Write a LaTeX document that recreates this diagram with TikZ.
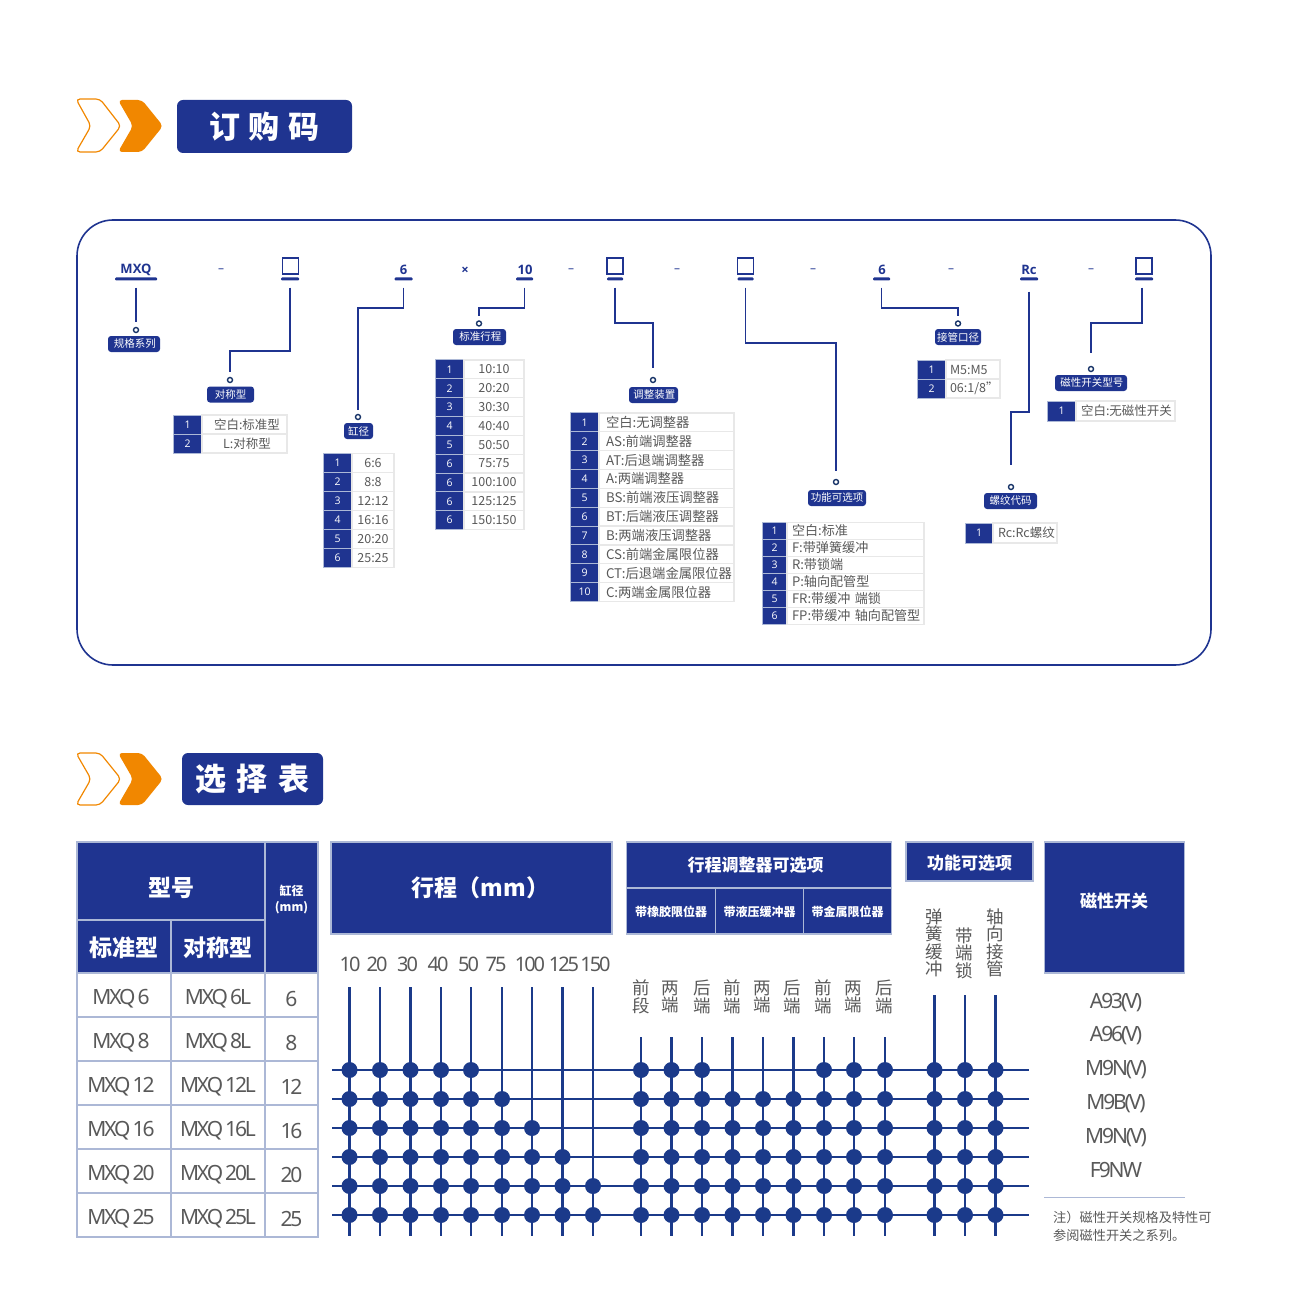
\documentclass[tikz,border=0pt]{standalone}
\usepackage{fontspec}
\setmainfont{Noto Sans CJK SC}
\newfontfamily\latinfont{Open Sans}
\newfontfamily\tightfont[LetterSpace=-10]{Noto Sans}
\definecolor{mainblue}{RGB}{31,52,144}
\definecolor{gridblue}{RGB}{27,58,138}
\definecolor{ringblue}{RGB}{24,52,104}
\definecolor{chevron}{RGB}{241,135,0}
\definecolor{cellline}{RGB}{172,184,214}
\definecolor{softline}{RGB}{232,232,232}
\definecolor{bodytext}{RGB}{89,89,89}
\begin{document}
\begin{tikzpicture}[x=1pt, y=-1pt]
\tikzset{
  titlebox/.style={fill=mainblue, rounded corners=6pt, text=white, inner sep=0pt, font=\fontsize{31}{31}\selectfont\bfseries},
  codetext/.style={text=mainblue, inner sep=0pt, font=\fontsize{13}{13}\selectfont\latinfont\bfseries},
  codedash/.style={text=mainblue, inner sep=0pt, font=\fontsize{12}{12}\selectfont\latinfont},
  blankbox/.style={draw=mainblue, line width=1.6pt, minimum size=16pt, inner sep=0pt},
  uline/.style={fill=mainblue, rounded corners=1pt, minimum height=3pt, inner sep=0pt},
  conn/.style={draw=mainblue, line width=1.5pt},
  ring/.style={draw=ringblue, circle, line width=1.4pt, minimum size=5pt, inner sep=0pt},
  tag/.style={fill=mainblue, rounded corners=3pt, text=white, minimum height=16pt, inner sep=0pt, font=\fontsize{10.5}{10.5}\selectfont},
  idxcell/.style={fill=mainblue, draw=cellline, line width=1pt, text=white, inner sep=0pt, minimum width=29pt, font=\fontsize{10.5}{10.5}\selectfont\latinfont},
  optcell/.style={draw=softline, line width=1.2pt, text=bodytext, inner sep=0pt, font=\fontsize{12.5}{12.5}\selectfont},
  headcell/.style={fill=mainblue, draw=cellline, line width=1.3pt, text=white, inner sep=0pt, font=\fontsize{17}{17}\selectfont\bfseries},
  headtext/.style={text=white, inner sep=0pt, align=center, font=\fontsize{23}{23}\selectfont\bfseries},
  bodycell/.style={draw=cellline, line width=1.3pt, text=bodytext, inner sep=0pt, font=\fontsize{21}{21}\selectfont\tightfont},
  sizetext/.style={text=bodytext, inner sep=0pt, font=\fontsize{20}{20}\selectfont\tightfont},
  sidetext/.style={text=bodytext, inner sep=0pt, align=center, font=\fontsize{17.5}{17.5}\selectfont},
  gridline/.style={draw=gridblue, line width=2.8pt},
  griddot/.style={fill=gridblue, circle, minimum size=16pt, inner sep=0pt}
}
\useasboundingbox (0,0) rectangle (1289,1313);

% section headings
\draw[chevron, line width=1.2pt, rounded corners=4pt] (76,99) -- (100,99) -- (121,126) -- (100,152) -- (76,152) -- (91,126) -- cycle;
\fill[chevron, rounded corners=4pt] (118,100) -- (142,100) -- (163,126) -- (142,152) -- (118,152) -- (133,126) -- cycle;
\node[titlebox, minimum width=175pt, minimum height=53pt] (TitleA) at (264.5,126.5) {订\hspace{9pt}购\hspace{9pt}码};
\draw[chevron, line width=1.2pt, rounded corners=4pt] (76,753) -- (100,753) -- (121,779) -- (100,805) -- (76,805) -- (91,779) -- cycle;
\fill[chevron, rounded corners=4pt] (118,753) -- (142,753) -- (163,779) -- (142,805) -- (118,805) -- (133,779) -- cycle;
\node[titlebox, minimum width=141pt, minimum height=52pt] (TitleB) at (252.5,779) {选\hspace{11pt}择\hspace{11pt}表};

% order code frame
\draw[mainblue, line width=1.6pt, rounded corners=36pt] (77,220) rectangle (1211,665);

% code row
\node[codetext] (C1) at (136,269.5) {MXQ};
\node[codedash] (D1) at (221,271) {–};
\node[blankbox] (C2) at (290.5,266) {};
\node[codetext] (C3) at (403.5,269.5) {6};
\node[codetext] (X1) at (465,271) {×};
\node[codetext] (C4) at (525,269.5) {10};
\node[codedash] (D2) at (571,271) {–};
\node[blankbox] (C5) at (615,266) {};
\node[codedash] (D3) at (677,271) {–};
\node[blankbox] (C6) at (745.5,266) {};
\node[codedash] (D4) at (813,271) {–};
\node[codetext] (C7) at (882,269.5) {6};
\node[codedash] (D5) at (951,271) {–};
\node[codetext] (C8) at (1029,269.5) {Rc};
\node[codedash] (D6) at (1091,271) {–};
\node[blankbox] (C9) at (1144,266) {};

\node[uline, minimum width=42pt] (U1) at (136,279) {};
\node[uline, minimum width=18pt] (U2) at (290,279) {};
\node[uline, minimum width=18pt] (U3) at (403.5,279) {};
\node[uline, minimum width=17pt] (U4) at (524.5,279) {};
\node[uline, minimum width=16pt] (U5) at (615,279) {};
\node[uline, minimum width=16pt] (U6) at (745.5,279) {};
\node[uline, minimum width=17pt] (U7) at (881.5,279) {};
\node[uline, minimum width=18pt] (U8) at (1029,279) {};
\node[uline, minimum width=18pt] (U9) at (1144,279) {};

% rings and tags
\node[ring] (R1) at (136,330) {};
\node[ring] (R2) at (230,380) {};
\node[ring] (R3) at (358,417) {};
\node[ring] (R4) at (479,323.5) {};
\node[ring] (R5) at (653,380) {};
\node[ring] (R6) at (836,482) {};
\node[ring] (R7) at (958,323.5) {};
\node[ring] (R8) at (1011,487) {};
\node[ring] (R9) at (1091,369) {};
\node[tag, minimum width=52pt] (L1) at (134,344) {\hspace{1.5pt}规格系列};
\node[tag, minimum width=47pt] (L2) at (230.5,394.5) {对称型};
\node[tag, minimum width=29pt] (L3) at (358.5,431) {缸径};
\node[tag, minimum width=53pt] (L4) at (479.5,337) {\hspace{1.5pt}标准行程};
\node[tag, minimum width=49pt] (L5) at (653.5,395) {\hspace{1.5pt}调整装置};
\node[tag, minimum width=58pt] (L6) at (837,498) {功能可选项};
\node[tag, minimum width=46pt] (L7) at (958,337) {接管口径};
\node[tag, minimum width=53pt] (L8) at (1010.5,501) {螺纹代码};
\node[tag, minimum width=72pt] (L9) at (1091,383) {\hspace{1.5pt}磁性开关型号};

% connectors
\coordinate (M2) at (230,351);
\coordinate (M3) at (358,308);
\coordinate (M4) at (479,308);
\coordinate (M5) at (653,323);
\coordinate (M6) at (836,343);
\coordinate (M7) at (958,308);
\coordinate (M8) at (1011,412);
\coordinate (M9) at (1091,323);
\draw[conn, shorten <=7pt, shorten >=5pt] (U1.south) -- (R1.north);
\draw[conn, shorten <=7pt, shorten >=5pt] (U2.south) |- (M2) -- (R2.north);
\draw[conn, shorten <=7pt, shorten >=4pt] (U3.south) |- (M3) -- (R3.north);
\draw[conn, shorten <=7pt, shorten >=4pt] (U4.south) |- (M4) -- (R4.north);
\draw[conn, shorten <=7pt, shorten >=9pt] (U5.south) |- (M5) -- (R5.north);
\draw[conn, shorten <=7pt, shorten >=8pt] (U6.south) |- (M6) -- (R6.north);
\draw[conn, shorten <=7pt, shorten >=4pt] (U7.south) |- (M7) -- (R7.north);
\draw[conn, shorten <=11pt, shorten >=19pt] (U8.south) |- (M8) -- (R8.north);
\draw[conn, shorten <=7pt, shorten >=13pt] ([xshift=-2pt]U9.south) |- (M9) -- (R9.north);

% option tables
\foreach \n/\t [count=\k] in {1/空白:标准型, 2/L:对称型} {
  \node[idxcell, minimum height=19pt] (A\k) at (187.5,{405.5+\k*19}) {\n};
  \node[optcell, minimum width=85pt, minimum height=19pt] (B\k) at (244.5,{405.5+\k*19}) {\hspace*{5pt}\t};
}
\foreach \n/\t [count=\k] in {1/6:6, 2/8:8, 3/12:12, 4/16:16, 5/20:20, 6/25:25} {
  \node[idxcell, minimum height=19pt] (E\k) at (337.5,{444+\k*19}) {\n};
  \node[optcell, minimum width=42pt, minimum height=19pt] (F\k) at (373,{444+\k*19}) {\t};
}
\foreach \n/\t [count=\k] in {1/10:10, 2/20:20, 3/30:30, 4/40:40, 5/50:50, 6/75:75, 6/100:100, 6/125:125, 6/150:150} {
  \node[idxcell, minimum height=18.9pt] (G\k) at (449.5,{350.5+\k*18.85}) {\n};
  \node[optcell, minimum width=60pt, minimum height=18.9pt] (H\k) at (494,{350.5+\k*18.85}) {\t};
}
\foreach \n/\t [count=\k] in {1/空白:无调整器, 2/AS:前端调整器, 3/AT:后退端调整器, 4/A:两端调整器, 5/BS:前端液压调整器, 6/BT:后端液压调整器, 7/B:两端液压调整器, 8/CS:前端金属限位器, 9/CT:后退端金属限位器, 10/C:两端金属限位器} {
  \node[idxcell, minimum height=18.9pt] (J\k) at (584.5,{403.5+\k*18.85}) {\n};
  \node[optcell, minimum width=135pt, minimum height=18.9pt, text width=133pt, align=left, font=\fontsize{13.3}{13.3}\selectfont] (K\k) at (666.5,{403.5+\k*18.85}) {\hspace*{6pt}\t};
}
\foreach \n/\t [count=\k] in {1/空白:标准, 2/F:带弹簧缓冲, 3/R:带锁端, 4/P:轴向配管型, 5/FR:带缓冲 端锁, 6/FP:带缓冲 轴向配管型} {
  \node[idxcell, minimum width=25pt, minimum height=17pt] (N\k) at (774.5,{514+\k*17}) {\n};
  \node[optcell, minimum width=137pt, minimum height=17pt, text width=133pt, align=left, font=\fontsize{13.1}{13.1}\selectfont] (P\k) at (855.5,{513.7+\k*17}) {\hspace*{3pt}\t};
}
\foreach \n/\t [count=\k] in {1/M5:M5, 2/{06:1/8''}} {
  \node[idxcell, minimum height=19pt] (Q\k) at (931.5,{350.5+\k*19}) {\n};
  \node[optcell, minimum width=54pt, minimum height=19pt, text width=52pt, align=left] (S\k) at (973,{350.5+\k*19}) {\hspace*{3pt}\t};
}
\node[idxcell, minimum width=28pt, minimum height=20pt] (V1) at (979,533) {1};
\node[optcell, minimum width=64pt, minimum height=20pt, text width=62pt, align=left] (W1) at (1025,533) {\hspace*{4pt}Rc:Rc螺纹};
\node[idxcell, minimum height=20pt] (Y1) at (1061.5,411) {1};
\node[optcell, minimum width=99pt, minimum height=20pt, text width=97pt, align=left] (Z1) at (1125.5,411) {\hspace*{4pt}空白:无磁性开关};

% selection table
\node[headcell, minimum width=188pt, minimum height=78pt] (TA) at (171,881) {};
\node[headtext] (TAt) at (171,888) {型号};
\node[headcell, minimum width=94pt, minimum height=53pt] (TB) at (124,946.5) {\fontsize{23}{23}\selectfont\raisebox{-1pt}[\height][\depth]{标准型}};
\node[headcell, minimum width=94pt, minimum height=53pt] (TC) at (218,946.5) {\fontsize{23}{23}\selectfont\raisebox{-1pt}[\height][\depth]{对称型}};
\node[headcell, minimum width=53pt, minimum height=131pt] (TD) at (291.5,907.5) {};
\node[headtext, font=\fontsize{12}{16}\selectfont\bfseries] (TDt) at (291.5,900) {缸径\\(mm)};
\foreach \a/\b/\c [count=\k] in {6/6L/6, 8/8L/8, 12/12L/12, 16/16L/16, 20/20L/20, 25/25L/25} {
  \node[bodycell, minimum width=94pt, minimum height=44pt] (TE\k) at (124,{951+\k*44}) {\raisebox{-3.5pt}[\height][\depth]{MXQ\hspace{2pt}\a}\kern6pt};
  \node[bodycell, minimum width=94pt, minimum height=44pt] (TF\k) at (218,{951+\k*44}) {\raisebox{-3.5pt}[\height][\depth]{MXQ\hspace{2pt}\b}};
  \node[bodycell, minimum width=53pt, minimum height=44pt] (TG\k) at (291.5,{951+\k*44}) {\raisebox{-3.5pt}[\height][\depth]{\c}};
}
\node[headcell, minimum width=281pt, minimum height=92pt] (HS) at (471.5,888) {\fontsize{23}{23}\selectfont\hspace{18pt}行程（mm）};
\node[headcell, minimum width=265pt, minimum height=46pt] (HA) at (759,865) {行程调整器可选项\kern7pt};
\node[headcell, minimum width=89pt, minimum height=46pt, font=\fontsize{12}{12}\selectfont\bfseries] (HB) at (671,911) {\raisebox{-1pt}[\height][\depth]{带橡胶限位器}};
\node[headcell, minimum width=88pt, minimum height=46pt, font=\fontsize{12}{12}\selectfont\bfseries] (HC) at (759.5,911) {\raisebox{-1pt}[\height][\depth]{带液压缓冲器}};
\node[headcell, minimum width=88pt, minimum height=46pt, font=\fontsize{12}{12}\selectfont\bfseries] (HD) at (847.5,911) {\raisebox{-1pt}[\height][\depth]{带金属限位器}};
\node[headcell, minimum width=127pt, minimum height=39pt] (HF) at (969.5,861.5) {\raisebox{-1.5pt}[\height][\depth]{功能可选项}};
\node[headcell, minimum width=140pt, minimum height=131pt] (HM) at (1114.5,907.5) {};
\node[headtext, font=\fontsize{17}{17}\selectfont\bfseries] (HMt) at (1114,901) {磁性开关};

% stroke labels
\foreach \x/\t [count=\k] in {350/10, 377/20, 407.5/30, 438/40, 468.5/50, 496/75, 530/100, 564/125, 595.5/150} {
  \node[sizetext] (SL\k) at (\x,964.5) {\t};
}
\foreach \x/\t [count=\k] in {641/前\\段, 670/两\\端, 702/后\\端, 732/前\\端, 762/两\\端, 792/后\\端, 823/前\\端, 853/两\\端, 884/后\\端} {
  \node[sidetext] (AL\k) at (\x,997) {\t};
}
\node[sidetext] (FL1) at (934,943) {弹\\簧\\缓\\冲};
\node[sidetext] (FL2) at (964,953) {带\\端\\锁};
\node[sidetext] (FL3) at (995,943) {轴\\向\\接\\管};

% grid lines
\foreach \y [count=\r] in {1070,1099,1128,1157,1186,1215} {
  \coordinate (GL\r) at (332,\y);
  \coordinate (GR\r) at (1029,\y);
  \draw[gridline] (GL\r) -- (GR\r);
}
\coordinate (GB) at (0,1236);
\foreach \x [count=\k] in {349.5,380,410.5,441,471,502,532,562.5,593} {
  \coordinate (ST\k) at (\x,987);
  \draw[gridline] (ST\k) -- (ST\k |- GB);
}
\foreach \x [count=\k] in {641,671.5,702,732.5,763,793.5,824,854,885} {
  \coordinate (AT\k) at (\x,1037);
  \draw[gridline] (AT\k) -- (AT\k |- GB);
}
\foreach \x [count=\k] in {934.5,965,995.5} {
  \coordinate (FT\k) at (\x,995);
  \draw[gridline] (FT\k) -- (FT\k |- GB);
}

% grid dots
\foreach \y/\last [count=\r] in {1070/5, 1099/6, 1128/7, 1157/8, 1186/9, 1215/9} {
  \foreach \k in {1,...,\last} {
    \node[griddot] (SD\r\k) at (ST\k |- GL\r) {};
  }
}
\foreach \r in {1,...,6} {
  \foreach \k in {1,...,9} {
    \ifnum\r=1 \ifnum\k>3 \ifnum\k<7 \else
      \node[griddot] (AD\r\k) at (AT\k |- GL\r) {};
    \fi \else
      \node[griddot] (AD\r\k) at (AT\k |- GL\r) {};
    \fi \else
      \node[griddot] (AD\r\k) at (AT\k |- GL\r) {};
    \fi
  }
  \foreach \k in {1,2,3} {
    \node[griddot] (FD\r\k) at (FT\k |- GL\r) {};
  }
}

% switch list
\foreach \y/\t [count=\k] in {1002.5/A93(V), 1036/A96(V), 1070/M9N(V), 1103.5/M9B(V), 1137.5/M9N(V), 1170/F9NW} {
  \node[sizetext, font=\fontsize{21}{21}\selectfont\tightfont] (SW\k) at (1116,\y) {\t};
}
\coordinate (NA) at (1044,1197);
\coordinate (NB) at (1185,1197);
\draw[cellline, line width=1pt] (NA) -- (NB);
\node[text=bodytext, inner sep=0pt, anchor=west, font=\fontsize{13.2}{13.2}\selectfont] (NT1) at (1053,1217) {注）磁性开关规格及特性可};
\node[text=bodytext, inner sep=0pt, anchor=west, font=\fontsize{13.2}{13.2}\selectfont] (NT2) at (1053,1235) {参阅磁性开关之系列。};
\end{tikzpicture}
\end{document}
